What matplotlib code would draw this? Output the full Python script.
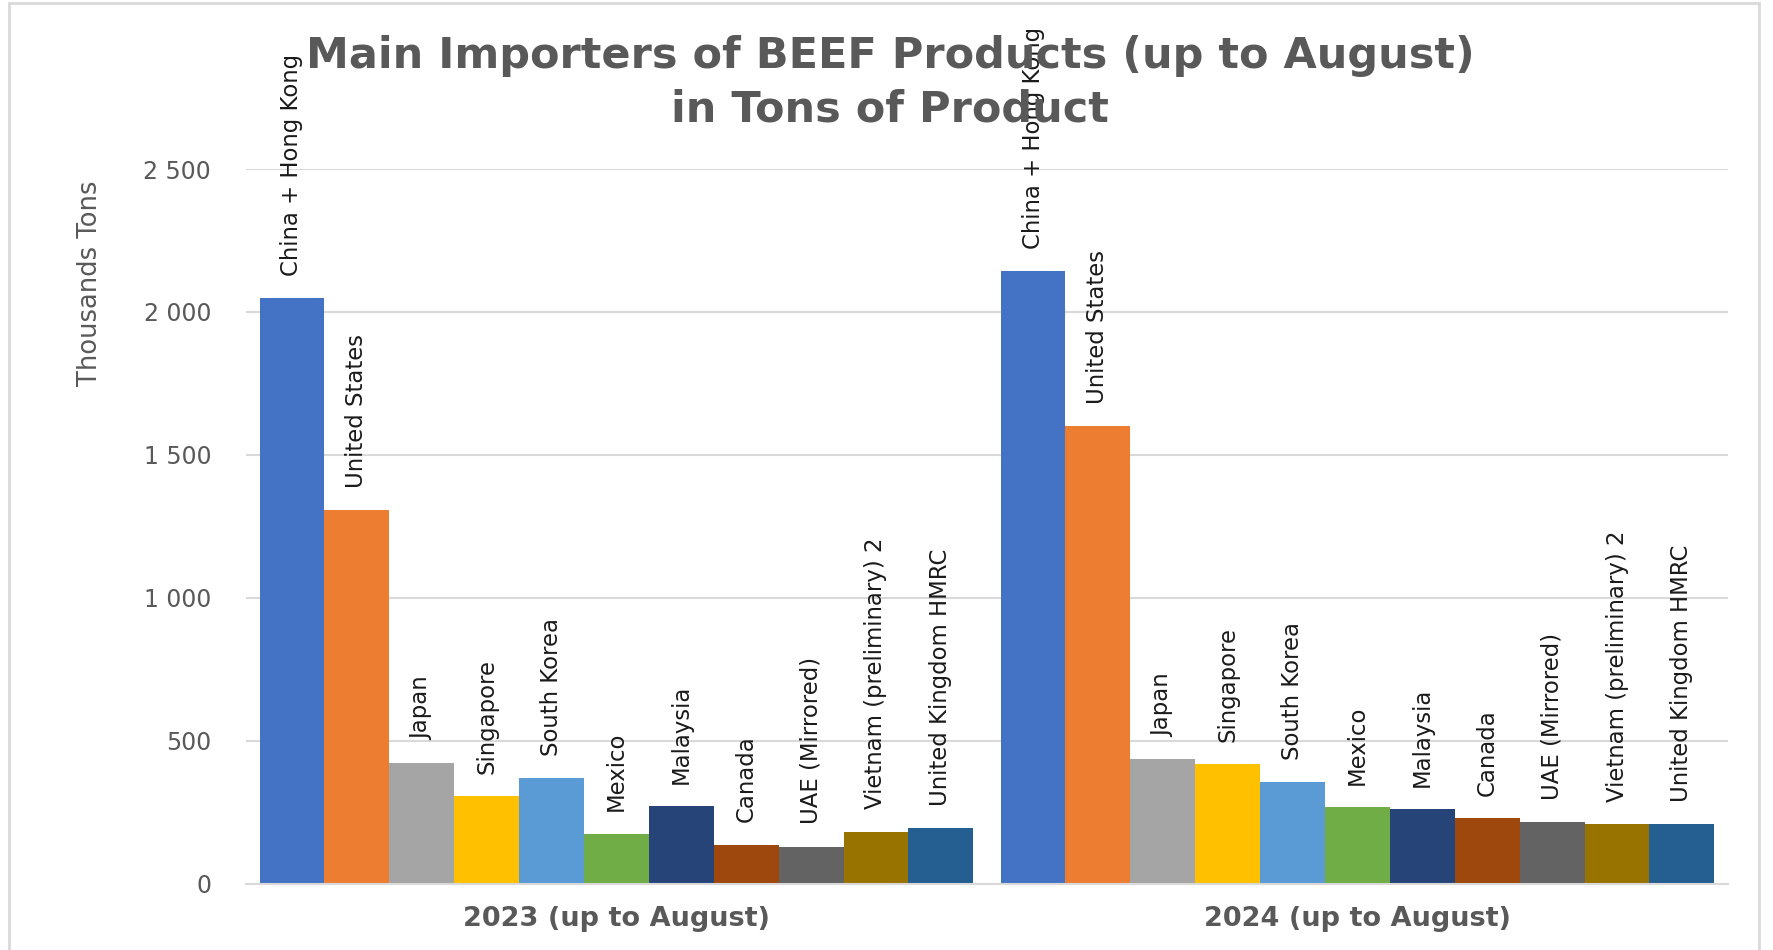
import matplotlib.pyplot as plt
from matplotlib.patches import Rectangle
import numpy as np

# data (thousand tons)
periods = ['2023 (up to August)', '2024 (up to August)']
countries = ['China + Hong Kong', 'United States', 'Japan', 'Singapore', 'South Korea',
             'Mexico', 'Malaysia', 'Canada', 'UAE (Mirrored)', 'Vietnam (preliminary) 2',
             'United Kingdom HMRC']
values_2023 = [2048, 1307, 424, 307, 371, 176, 273, 138, 131, 183, 196]
values_2024 = [2143, 1601, 437, 419, 355, 268, 263, 229, 216, 209, 209]
colors = ['#4472C4', '#ED7D31', '#A5A5A5', '#FFC000', '#5B9BD5', '#70AD47',
          '#264478', '#9E480E', '#636363', '#997300', '#255E91']

grey = '#595959'
fig = plt.figure(figsize=(17.73, 9.5), dpi=100)
ax = fig.add_axes([0.1387, 0.0695, 0.9746 - 0.1387, 0.8221 - 0.0695])

n = len(countries)
margin = 0.21
group_w = n + 2 * margin
for g, vals in enumerate([values_2023, values_2024]):
    x = g * group_w + margin + np.arange(n) + 0.5
    bars = ax.bar(x, vals, width=1.0, color=colors, zorder=2)
    for xi, v, name in zip(x, vals, countries):
        ax.annotate(name, (xi, v), xytext=(0, 16), textcoords='offset points',
                    rotation=90, ha='center', va='bottom', fontsize=16.4,
                    color='#1a1a1a', annotation_clip=False)

ax.set_xlim(0, 2 * group_w)
ax.set_ylim(0, 2500)
ax.set_yticks(range(0, 2501, 500))
ax.set_yticklabels(['0', '500', '1 000', '1 500', '2 000', '2 500'])
ax.set_xticks([group_w * 0.5, group_w * 1.5])
ax.set_xticklabels(periods, fontsize=19.5, fontweight='bold', color=grey)
ax.tick_params(axis='x', length=0, pad=16)
ax.tick_params(axis='y', length=0, pad=25, labelsize=17, labelcolor=grey)
ax.grid(axis='y', color='#D9D9D9', linewidth=1.5, zorder=0)
for s in ['top', 'right', 'left']:
    ax.spines[s].set_visible(False)
ax.spines['bottom'].set_color('#D9D9D9')
ax.spines['bottom'].set_linewidth(1.5)

fig.text(90 / 1773, 1 - 283 / 950, 'Thousands Tons', rotation=90, ha='center', va='center',
         fontsize=18.5, color=grey)

fig.text(0.502, 1 - 56 / 950, 'Main Importers of BEEF Products (up to August)',
         ha='center', va='center', fontsize=31, fontweight='bold', color=grey)
fig.text(0.502, 1 - 109 / 950, 'in Tons of Product',
         ha='center', va='center', fontsize=31, fontweight='bold', color=grey)

fig.patches.append(Rectangle((9 / 1773, -0.05), 1750 / 1773, 1.05 - 3 / 950,
                             transform=fig.transFigure, fill=False,
                             edgecolor='#D9D9D9', linewidth=2))

fig.savefig('out.png', dpi=100)
